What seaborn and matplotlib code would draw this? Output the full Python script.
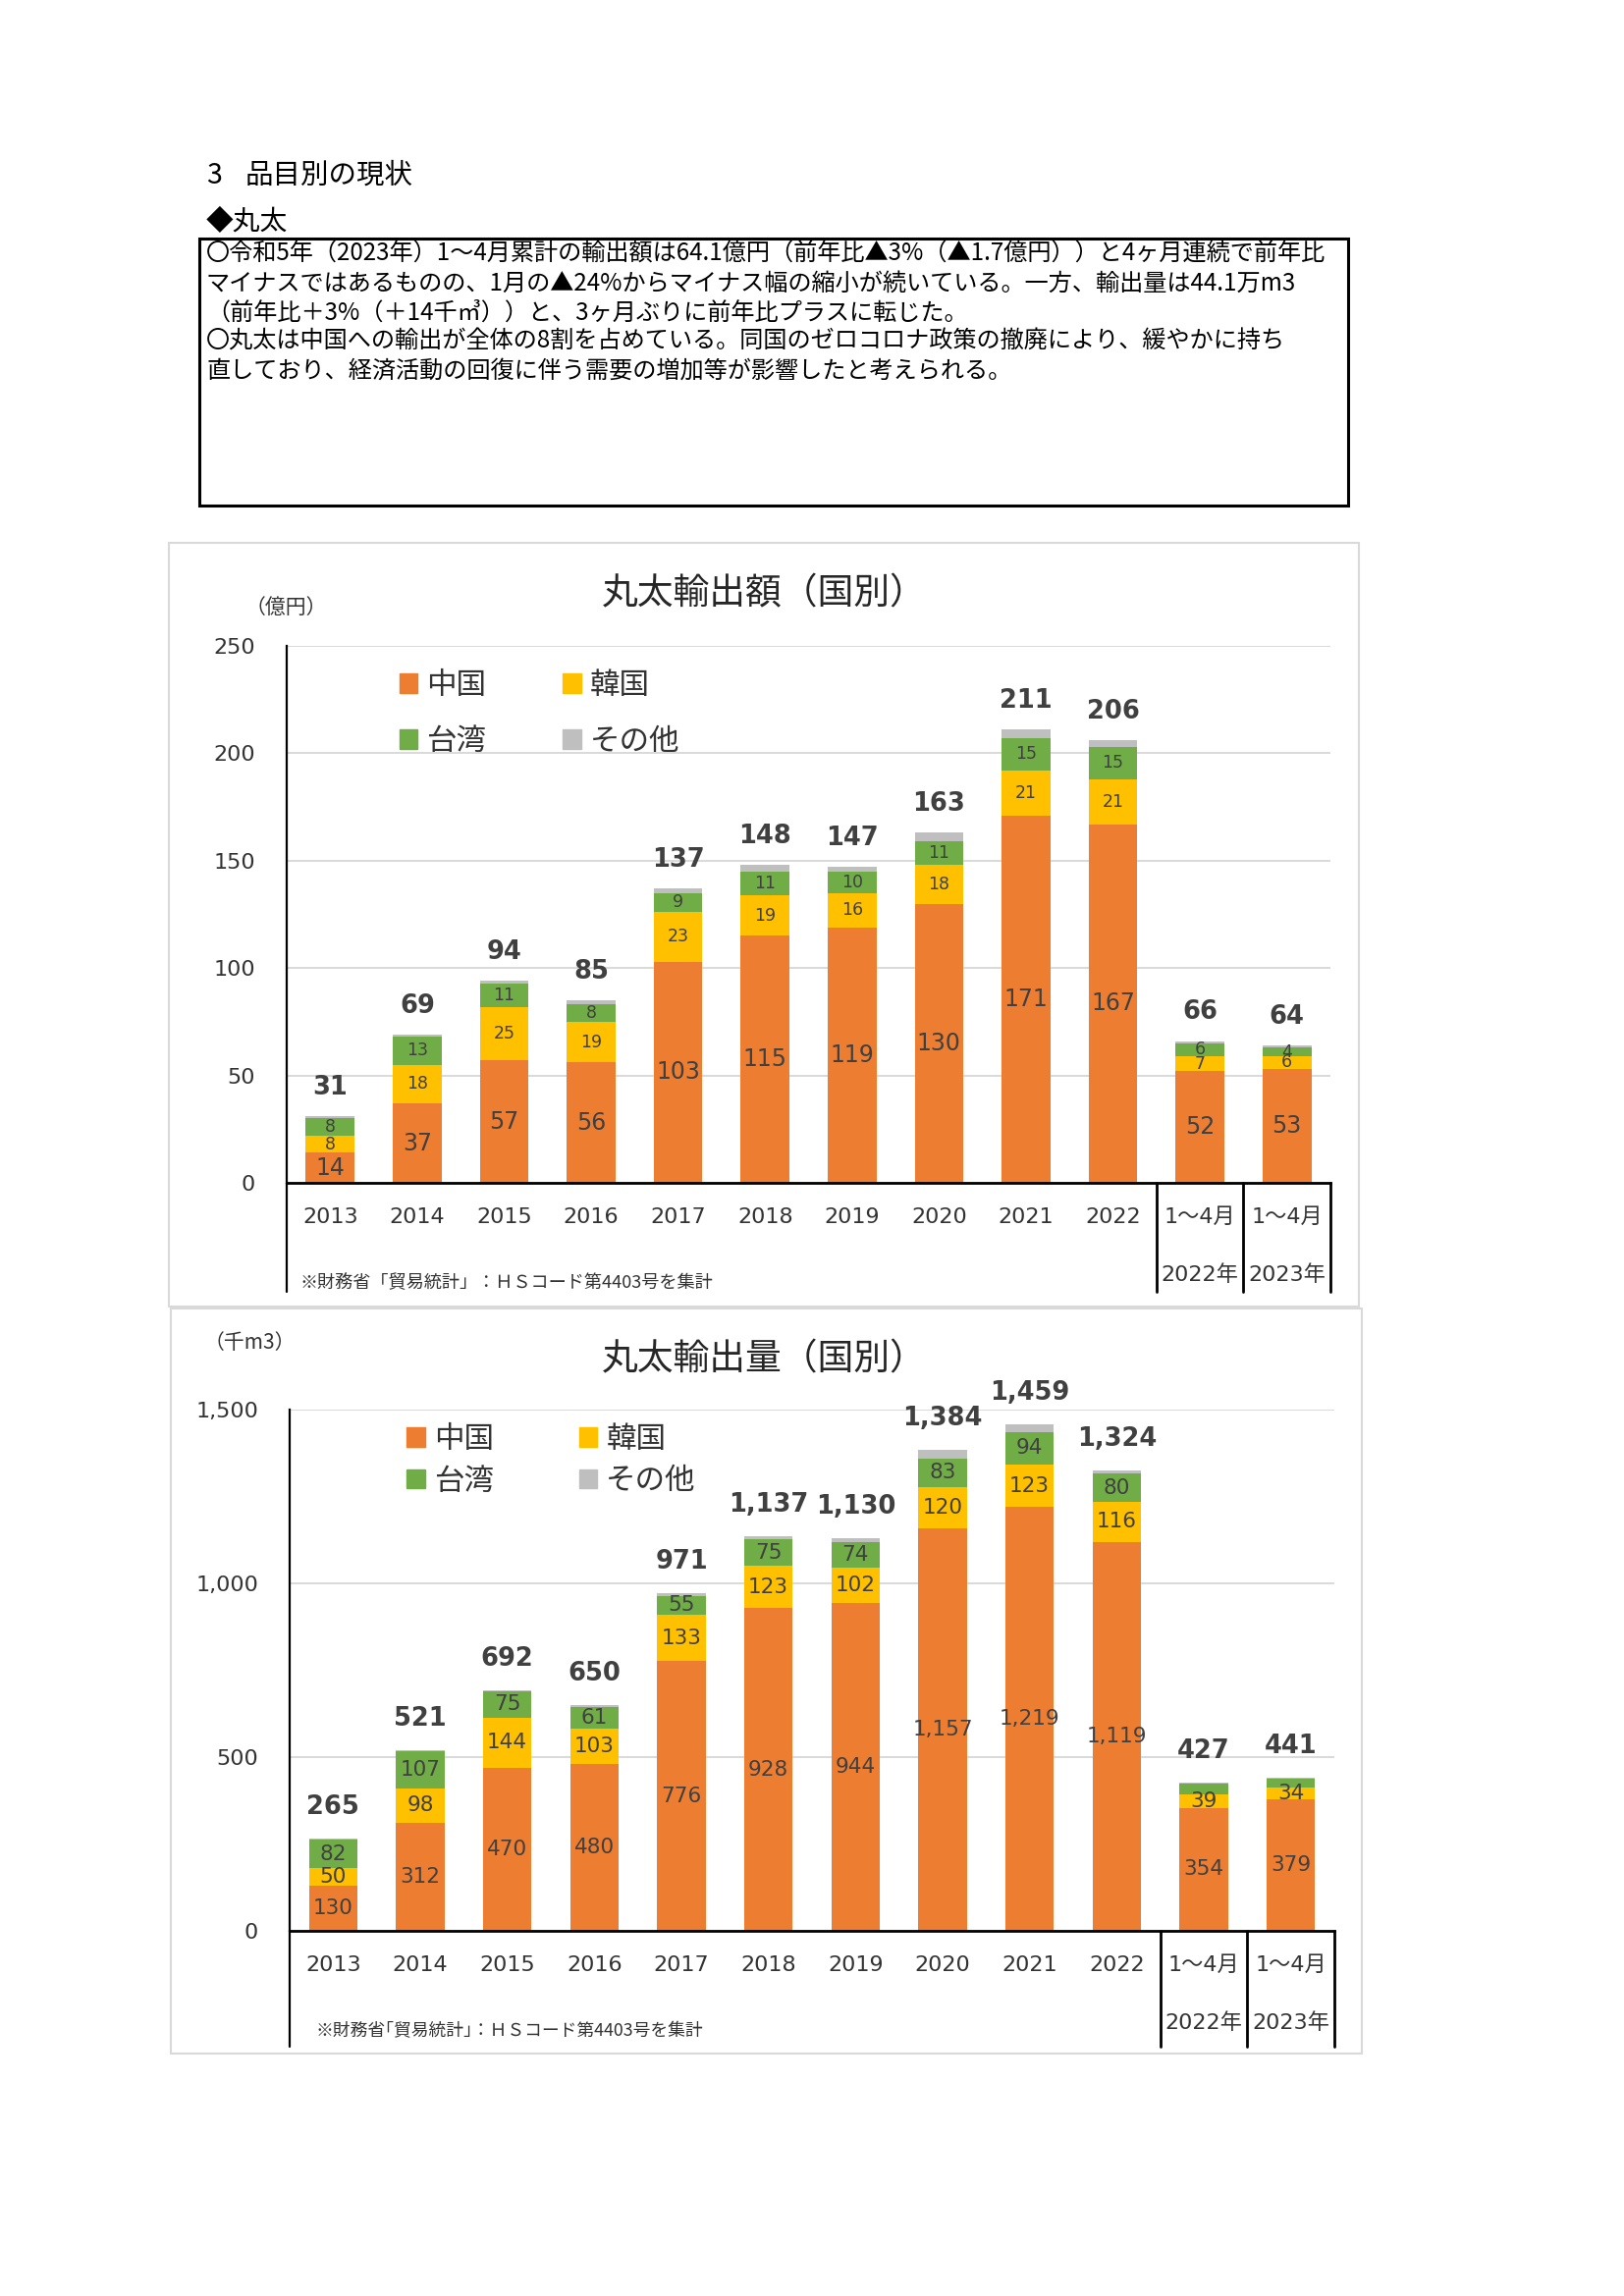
import numpy as np
import pandas as pd
import matplotlib.pyplot as plt
import matplotlib.transforms as mtransforms
from matplotlib.patches import Rectangle, Patch
from matplotlib.ticker import FuncFormatter
import seaborn as sns

sns.set_theme(style="white")
plt.rcParams['font.family'] = ['DejaVu Sans', 'Noto Sans CJK JP']

# ---- data ----
periods = ["2013", "2014", "2015", "2016", "2017", "2018", "2019", "2020",
           "2021", "2022", "1～4月\n2022年", "1～4月\n2023年"]
countries = ["中国", "韓国", "台湾", "その他"]
colors = ["#ED7D31", "#FFC000", "#70AD47", "#BFBFBF"]

# 輸出額（億円）
value_china = [14, 37, 57, 56, 103, 115, 119, 130, 171, 167, 52, 53]
value_korea = [8, 18, 25, 19, 23, 19, 16, 18, 21, 21, 7, 6]
value_taiwan = [8, 13, 11, 8, 9, 11, 10, 11, 15, 15, 6, 4]
value_other = [1, 1, 1, 2, 2, 3, 2, 4, 4, 3, 1, 1]

# 輸出量（千m3）
volume_china = [130, 312, 470, 480, 776, 928, 944, 1157, 1219, 1119, 354, 379]
volume_korea = [50, 98, 144, 103, 133, 123, 102, 120, 123, 116, 39, 34]
volume_taiwan = [82, 107, 75, 61, 55, 75, 74, 83, 94, 80, 30, 26]
volume_other = [3, 4, 3, 6, 7, 11, 10, 24, 23, 9, 4, 2]

header_no = "3"
header = "品目別の現状"
subheader = "◆丸太"
body = ("〇令和5年（2023年）1～4月累計の輸出額は64.1億円（前年比▲3%（▲1.7億円））と4ヶ月連続で前年比\n"
        "マイナスではあるものの、1月の▲24%からマイナス幅の縮小が続いている。一方、輸出量は44.1万m3\n"
        "（前年比＋3%（＋14千㎥））と、3ヶ月ぶりに前年比プラスに転じた。\n"
        "〇丸太は中国への輸出が全体の8割を占めている。同国のゼロコロナ政策の撤廃により、緩やかに持ち\n"
        "直しており、経済活動の回復に伴う需要の増加等が影響したと考えられる。")

W, H = 1654, 2339
fig = plt.figure(figsize=(W / 100, H / 100), dpi=100)
fig.patch.set_facecolor("white")

jp = ['Noto Sans CJK JP', 'DejaVu Sans']
txt = '#333333'

# header text and box
fig.text(210 / W, 1 - 179 / H, header_no, fontsize=20.5, family=jp, va='center', color='black')
fig.text(250 / W, 1 - 179 / H, header, fontsize=20.5, family=jp, va='center', color='black')
fig.text(210 / W, 1 - 226 / H, subheader, fontsize=20, family=jp, va='center', color='black')
fig.add_artist(Rectangle((203 / W, 1 - 515 / H), (1373 - 203) / W, (515 - 243) / H,
                         transform=fig.transFigure, fill=False, ec='black', lw=2.2))
fig.text(210 / W, 1 - 246 / H, body, fontsize=17.4, family=jp, va='top', color='black',
         linespacing=1.18)


def draw_chart(ax, china, korea, taiwan, other, ymax, ystep, big_fs, small_fs, fmt,
               total_off, skip, sep_depth, box, title, title_y, unit, unit_xy,
               note, note_xy, note_fs, leg_anchor, leg_spacing, leg_colspace):
    layers = [china, korea, taiwan, other]
    cum = np.cumsum(np.array(layers), axis=0)
    # draw cumulative bars from top layer down
    for k in range(3, -1, -1):
        sns.barplot(x=periods, y=cum[k], order=periods, color=colors[k], saturation=1,
                    width=0.56, linewidth=0, ax=ax, zorder=3)
    ax.set_xlim(-0.5, len(periods) - 0.5)
    ax.set_ylim(0, ymax)
    ax.set_yticks(np.arange(0, ymax + 1, ystep))
    ax.yaxis.set_major_formatter(FuncFormatter(lambda v, p: f"{int(v):,}"))
    ax.grid(axis='y', color='#D9D9D9', lw=1.4, zorder=0)
    ax.grid(axis='x', visible=False)
    for s in ['top', 'right']:
        ax.spines[s].set_visible(False)
    ax.spines['left'].set_color('black')
    ax.spines['left'].set_linewidth(1.6)
    ax.spines['bottom'].set_color('black')
    ax.spines['bottom'].set_linewidth(2.0)
    ax.spines['bottom'].set_zorder(5)
    ax.set_xlabel("")
    ax.set_ylabel("")
    ax.tick_params(axis='y', length=0, pad=23, labelsize=16, labelcolor=txt)
    ax.tick_params(axis='x', length=0, pad=18, labelsize=16, labelcolor=txt)
    for lab in ax.get_xticklabels():
        lab.set_linespacing(3.3)

    # segment labels
    bottoms = np.vstack([np.zeros(len(periods)), cum[:-1]])
    for k in range(3):
        for i, v in enumerate(layers[k]):
            if (k, i) in skip:
                continue
            fs = big_fs if k == 0 else small_fs
            ax.text(i, bottoms[k][i] + v / 2, fmt(v), ha='center', va='center',
                    fontsize=fs, color='#404040', zorder=6)
    totals = cum[-1]
    for i, t in enumerate(totals):
        ax.annotate(f"{int(t):,}", (i, t), xytext=(0, total_off), textcoords='offset points',
                    ha='center', va='center', fontsize=18.5, fontweight='bold', color='#404040')

    # table-like separators below the axis
    tr = mtransforms.blended_transform_factory(ax.transData, ax.transAxes)
    for xv in [-0.5, 9.5, 10.5, 11.5]:
        ax.plot([xv, xv], [0, -sep_depth], transform=tr, clip_on=False, color='black',
                lw=2.0 if xv > 0 else 1.6)

    # legend
    handles = [Patch(color=colors[0], label=countries[0]),
               Patch(color=colors[2], label=countries[2]),
               Patch(color=colors[1], label=countries[1]),
               Patch(color=colors[3], label=countries[3])]
    leg = ax.legend(handles=handles, ncol=2, loc='upper left', bbox_to_anchor=leg_anchor,
                    frameon=False, prop={'family': jp, 'size': 22},
                    handlelength=0.6, handleheight=0.6, handletextpad=0.3,
                    labelspacing=leg_spacing, columnspacing=leg_colspace,
                    borderpad=0, borderaxespad=0)
    for t in leg.get_texts():
        t.set_color(txt)

    # chart frame, title, unit, note
    x0, y0, x1, y1 = box
    fig.add_artist(Rectangle((x0 / W, 1 - y1 / H), (x1 - x0) / W, (y1 - y0) / H,
                             transform=fig.transFigure, fill=False, ec='#D9D9D9', lw=1.5))
    fig.text(778 / W, 1 - title_y / H, title, fontsize=26.5, family=jp, ha='center',
             va='center', color='#262626')
    fig.text(unit_xy[0] / W, 1 - unit_xy[1] / H, unit, fontsize=15, family=jp,
             va='center', color=txt)
    fig.text(note_xy[0] / W, 1 - note_xy[1] / H, note, fontsize=note_fs, family=jp,
             va='center', color=txt)


ax1 = fig.add_axes([292 / W, 1 - 1205 / H, 1063 / W, 547 / H])
draw_chart(ax1, value_china, value_korea, value_taiwan, value_other,
           250, 50, 17, 12.5, lambda v: f"{v:,}", 21, set(), 0.203,
           (172, 553, 1384, 1331), "丸太輸出額（国別）", 605, "（億円）", (250, 619),
           "※財務省「貿易統計」：ＨＳコード第4403号を集計", (306, 1307), 13.1,
           (0.108, 0.955), 0.85, 2.55)

ax2 = fig.add_axes([295 / W, 1 - 1967 / H, 1064 / W, 531 / H])
draw_chart(ax2, volume_china, volume_korea, volume_taiwan, volume_other,
           1500, 500, 15.5, 15.5, lambda v: f"{v:,}", 23, {(2, 10), (2, 11)}, 0.222,
           (174, 1333, 1387, 2092), "丸太輸出量（国別）", 1385, "（千m3）", (208, 1368),
           "※財務省｢貿易統計｣：ＨＳコード第4403号を集計", (322, 2069), 12.8,
           (0.112, 0.972), 0.38, 2.85)

fig.savefig("out.png", dpi=100, facecolor="white")
